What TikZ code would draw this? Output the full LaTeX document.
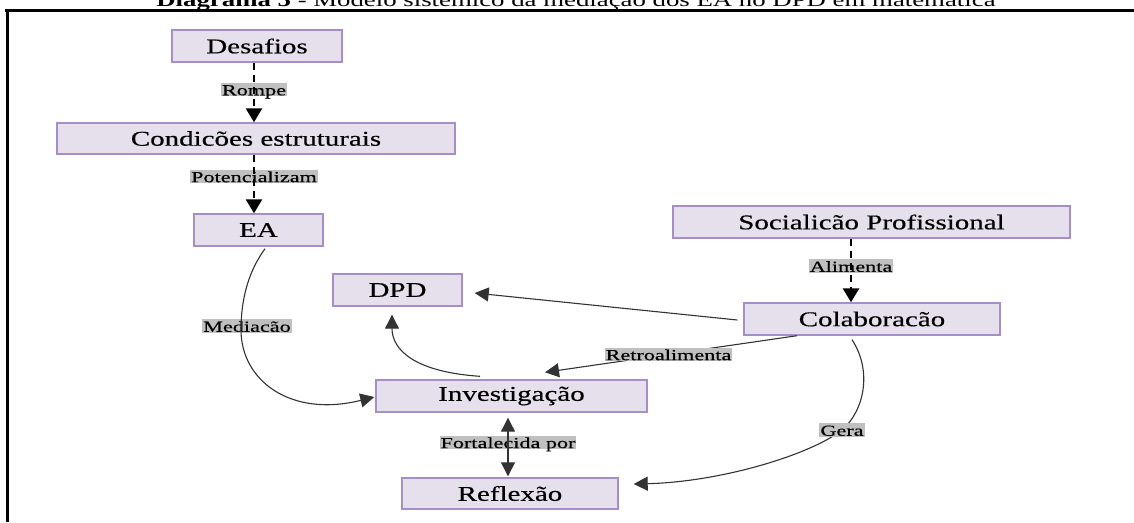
\documentclass[tikz,border=0pt]{standalone}
\usepackage{fontspec}
\setmainfont{Liberation Serif}
\newfontfamily\boxfont[FakeStretch=1.38,FakeBold=0.4]{Liberation Serif}
\newfontfamily\lblfont[FakeStretch=1.45,FakeBold=0.4]{Liberation Serif}
\newfontfamily\titlefont[FakeStretch=1.41]{Liberation Serif}
\usetikzlibrary{arrows.meta}
\definecolor{boxfill}{RGB}{229,224,236}
\definecolor{boxline}{RGB}{166,142,200}
\definecolor{lblfill}{RGB}{192,192,192}
\tikzset{
  stagebox/.style={draw=boxline, fill=boxfill, line width=1.4pt, inner sep=0pt,
    font=\boxfont\fontsize{21}{24}\selectfont},
  lbl/.style={fill=lblfill, inner xsep=1pt, inner ysep=1pt, text height=11.5pt, text depth=0pt,
    font=\lblfont\fontsize{15.3}{17}\selectfont},
  dline/.style={line width=2.6pt, dash pattern=on 7pt off 5pt,
    -{Triangle[length=14pt,width=16pt]}},
  link/.style={line width=1.1pt, draw=black!80,
    -{Triangle[length=14pt,width=14pt]}},
}
\begin{document}
\begin{tikzpicture}[x=1pt, y=-1pt]
\useasboundingbox[fill=white] (0,0) rectangle (1134,522);

% caption line, cut by the page edge
\node[anchor=base, font=\titlefont\fontsize{19}{21}\selectfont] (title) at (576,6)
  {\textbf{Diagrama 5} - Modelo sistêmico da mediação dos EA no DPD em matemática};

% frame
\draw[line width=3pt] (5,10) -- (1134,10);
\draw[line width=3pt] (7,10) -- (7,522);

% stages
\node[stagebox, minimum width=170pt, minimum height=32pt] (des)  at (257,46)    {Desafios};
\node[stagebox, minimum width=398pt, minimum height=31pt] (cond) at (256,138.5) {Condicões estruturais};
\node[stagebox, minimum width=129pt, minimum height=32pt] (ea)   at (258.5,230) {EA};
\node[stagebox, minimum width=397pt, minimum height=32pt] (soc)  at (871.5,222) {Socialicão Profissional};
\node[stagebox, minimum width=256pt, minimum height=32pt] (col)  at (872,319)   {Colaboracão};
\node[stagebox, minimum width=129pt, minimum height=32pt] (dpd)  at (397.5,290) {DPD};
\node[stagebox, minimum width=271pt, minimum height=32pt] (inv)  at (511.5,396) {Investigação};
\node[stagebox, minimum width=216pt, minimum height=31pt] (ref)  at (510,493.5) {Reflexão};

% dashed links (line runs over its label)
\draw[dline] ([xshift=-3pt]des.south) -- node[lbl, behind path, pos=0.45] {Rompe}
  ([xshift=-3pt]des.south |- cond.north);
\draw[dline] ([xshift=-2pt]cond.south) -- node[lbl, behind path, pos=0.37] {Potencializam}
  ([xshift=-2pt]cond.south |- ea.north);
\draw[dline] ([xshift=-21pt]col.north |- soc.south) -- node[lbl, behind path, pos=0.43] {Alimenta}
  ([xshift=-21pt]col.north);

% solid links
\draw[link] ([xshift=-6pt,yshift=-1pt]col.west) -- ([xshift=12pt,yshift=-3pt]dpd.east);
\draw[link] ([xshift=-75pt]col.south) -- node[lbl, pos=0.51] {Retroalimenta}
  ([xshift=33.5pt,yshift=7pt]inv.north);
\draw[link] ([xshift=-31.5pt,yshift=3pt]inv.north)
  .. controls (415,372) and (392,350) .. ([xshift=-5.5pt,yshift=-8pt]dpd.south);
\draw[link] ([xshift=6.5pt,yshift=-2pt]ea.south)
  .. controls (248,272) and (241,300) .. (241,330)
  node[lbl, behind path, xshift=6pt, yshift=4pt] {Mediacão}
  .. controls (241,380) and (290,418) .. ([xshift=-1pt,yshift=-1pt]inv.west);
\draw[link, {Triangle[length=14pt,width=14pt]}-{Triangle[length=14pt,width=14pt]}]
  ([xshift=-3.5pt,yshift=-5pt]inv.south) -- node[lbl, behind path, pos=0.42] {Fortalecida por}
  ([xshift=-2pt,yshift=1pt]ref.north);
\draw[link] ([xshift=-20pt,yshift=-4pt]col.south)
  .. controls (872,370) and (865,410) .. (842,430)
  node[lbl] {Gera}
  .. controls (810,455) and (720,482) .. ([xshift=15pt,yshift=9.5pt]ref.east);
\end{tikzpicture}
\end{document}
